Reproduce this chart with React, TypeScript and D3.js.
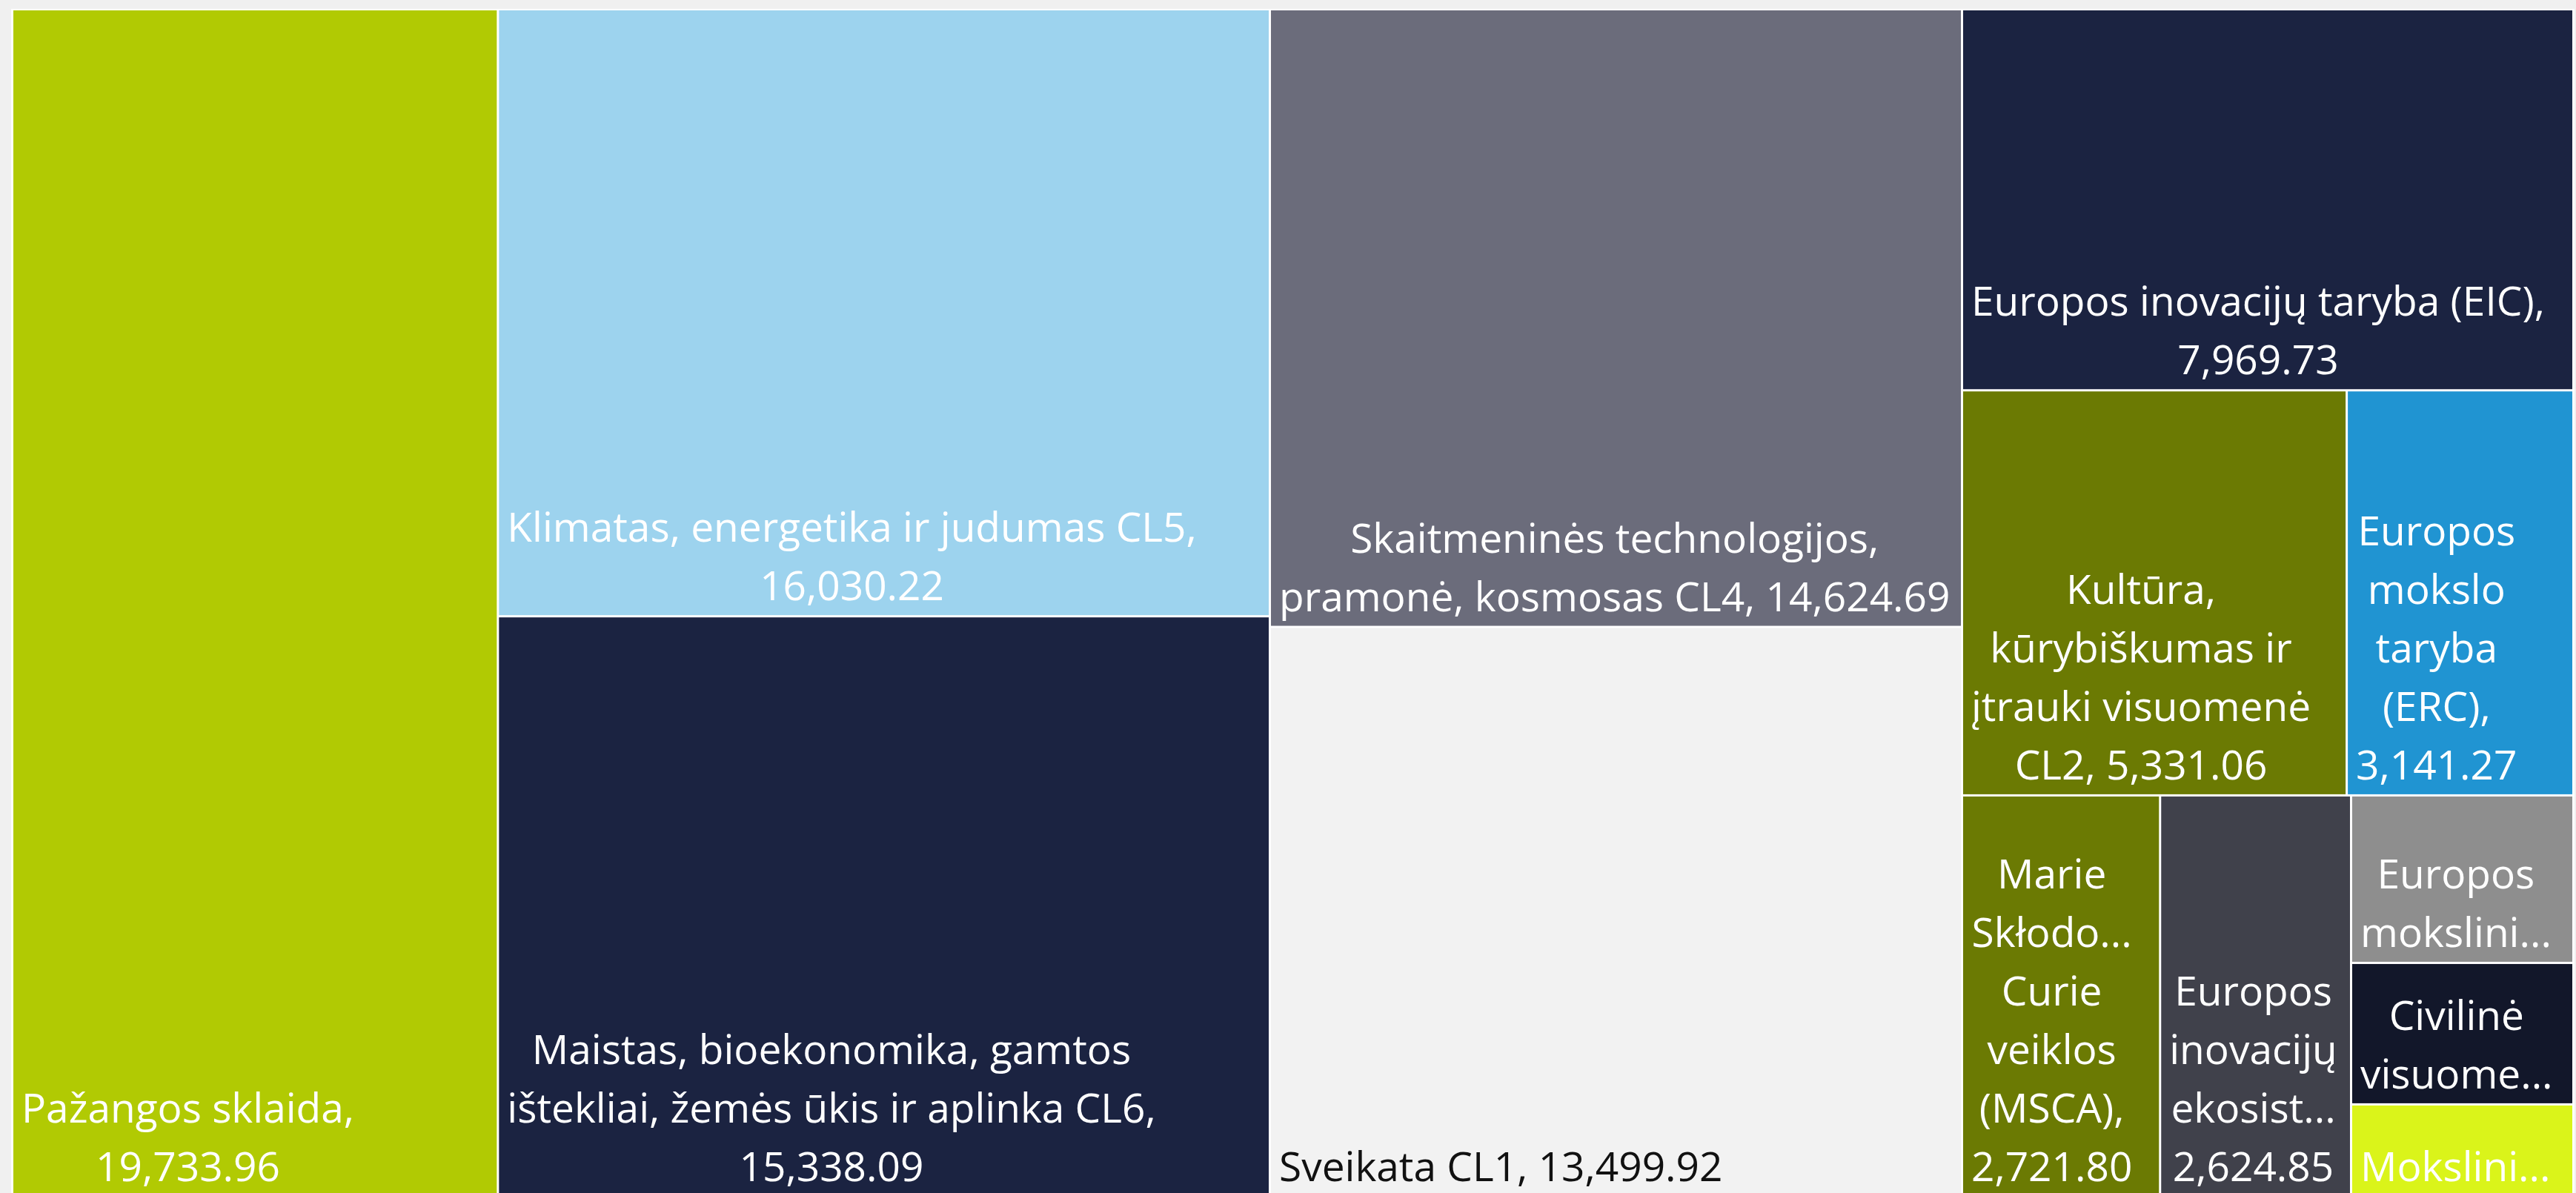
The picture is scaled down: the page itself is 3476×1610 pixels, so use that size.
import React, { useEffect, useMemo } from 'react';
import * as d3 from 'd3';

const categories = [
  'Pažangos sklaida',
  'Klimatas, energetika ir judumas CL5',
  'Maistas, bioekonomika, gamtos ištekliai, žemės ūkis ir aplinka CL6',
  'Skaitmeninės technologijos, pramonė, kosmosas CL4',
  'Sveikata CL1',
  'Europos inovacijų taryba (EIC)',
  'Kultūra, kūrybiškumas ir įtrauki visuomenė CL2',
  'Europos mokslo taryba (ERC)',
  'Marie Skłodowska-Curie veiklos (MSCA)',
  'Europos inovacijų ekosistemos',
  'Europos mokslinių tyrimų infrastruktūros',
  'Civilinė visuomenės sauga CL3',
  'Mokslinių tyrimų ir inovacijų sistema',
];

// last three are not labelled in the picture
const values = [
  19733.96, 16030.22, 15338.09, 14624.69, 13499.92, 7969.73, 5331.06, 3141.27,
  2721.8, 2624.85, 1274, 1076, 705,
];

// label text as it is wrapped / cut in the picture
const labelLines = [
  ['Pažangos sklaida,', '19,733.96'],
  ['Klimatas, energetika ir judumas CL5,', '16,030.22'],
  ['Maistas, bioekonomika, gamtos', 'ištekliai, žemės ūkis ir aplinka CL6,', '15,338.09'],
  ['Skaitmeninės technologijos,', 'pramonė, kosmosas CL4, 14,624.69'],
  ['Sveikata CL1, 13,499.92'],
  ['Europos inovacijų taryba (EIC),', '7,969.73'],
  ['Kultūra,', 'kūrybiškumas ir', 'įtrauki visuomenė', 'CL2, 5,331.06'],
  ['Europos', 'mokslo', 'taryba', '(ERC),', '3,141.27'],
  ['Marie', 'Skłodo...', 'Curie', 'veiklos', '(MSCA),', '2,721.80'],
  ['Europos', 'inovacijų', 'ekosist...', '2,624.85'],
  ['Europos', 'mokslini...'],
  ['Civilinė', 'visuome...'],
  ['Mokslini...'],
];

const colors = [
  '#B1CA03', '#9DD3EE', '#1B2341', '#6B6C7B', '#F2F2F2', '#1B2341', '#6B7A03',
  '#2094D2', '#6B7A03', '#40414B', '#8E8E8E', '#12172A', '#DAF41A',
];

const textColors = colors.map((c) => (c === '#F2F2F2' ? '#111111' : '#FFFFFF'));

const width = 3476;
const height = 1610;
const fontSize = 55;
const lineGap = 79;

// squarify that lays rows along the shorter side but prefers slightly tall cells
const tallBias = 1.232;
function tileRows(parent: any, x0: number, y0: number, x1: number, y1: number) {
  const nodes = parent.children;
  const n = nodes.length;
  let i = 0;
  let remaining = parent.value;
  while (i < n) {
    const dx = x1 - x0;
    const dy = y1 - y0;
    const across = dx < dy;
    const side = across ? dx : dy;
    const unit = (dx * dy) / remaining;
    let rowSum = 0;
    let best = Infinity;
    let j = i;
    while (j < n) {
      const s = rowSum + nodes[j].value;
      const thick = (s * unit) / side;
      let worst = 0;
      for (let m = i; m <= j; m++) {
        const len = (nodes[m].value / s) * side;
        const w = across ? len : thick;
        const h = across ? thick : len;
        worst = Math.max(worst, (tallBias * w) / h, h / (tallBias * w));
      }
      if (worst > best) break;
      best = worst;
      rowSum = s;
      j++;
    }
    const row = { children: nodes.slice(i, j), value: rowSum };
    const last = j >= n;
    if (across) {
      const yy = last ? y1 : y0 + (rowSum * unit) / side;
      d3.treemapDice(row as any, x0, y0, x1, yy);
      y0 = yy;
    } else {
      const xx = last ? x1 : x0 + (rowSum * unit) / side;
      d3.treemapSlice(row as any, x0, y0, xx, y1);
      x0 = xx;
    }
    remaining -= rowSum;
    i = j;
  }
}

let ctx: CanvasRenderingContext2D | null = null;
function measure(text: string) {
  if (!ctx) {
    ctx = document.createElement('canvas').getContext('2d');
  }
  if (!ctx) return text.length * fontSize * 0.5;
  ctx.font = `${fontSize}px "Open Sans"`;
  return ctx.measureText(text).width;
}

export default function App() {
  useEffect(() => {
    document.body.style.margin = '0';
    document.body.style.overflow = 'hidden';
  }, []);

  const leaves = useMemo(() => {
    const rows = categories.map((name, i) => ({ name, value: values[i], idx: i }));
    const root = d3
      .hierarchy<any>({ children: rows })
      .sum((d: any) => d.value || 0)
      .sort((a, b) => (b.value || 0) - (a.value || 0));
    d3.treemap<any>().tile(tileRows as any).size([3453, 1600]).paddingInner(3)(root);
    return root.leaves() as d3.HierarchyRectangularNode<any>[];
  }, []);

  return (
    <svg
      width={width}
      height={height}
      style={{ position: 'absolute', left: 0, top: 0, display: 'block' }}
    >
      <rect x={0} y={0} width={width} height={height} fill="#F0F0F0" />
      <rect x={15} y={12} width={3459} height={1610} fill="#FFFFFF" />
      <g transform="translate(18,14)">
        {leaves.map((leaf) => {
          const i = leaf.data.idx;
          const lines = labelLines[i];
          const cellW = leaf.x1 - leaf.x0;
          const maxW = d3.max(lines, (l) => measure(l)) || 0;
          const cx = maxW + 22 > cellW ? (leaf.x0 + leaf.x1) / 2 : leaf.x0 + 11 + maxW / 2;
          return (
            <g key={i}>
              <rect
                x={leaf.x0}
                y={leaf.y0}
                width={leaf.x1 - leaf.x0}
                height={leaf.y1 - leaf.y0}
                fill={colors[i]}
              />
              <text
                fill={textColors[i]}
                fontFamily="'Segoe UI', 'Open Sans', sans-serif"
                fontSize={fontSize}
                textAnchor="middle"
              >
                {lines.map((l, k) => (
                  <tspan key={k} x={cx} y={leaf.y1 - 20 - (lines.length - 1 - k) * lineGap}>
                    {l}
                  </tspan>
                ))}
              </text>
            </g>
          );
        })}
      </g>
    </svg>
  );
}
